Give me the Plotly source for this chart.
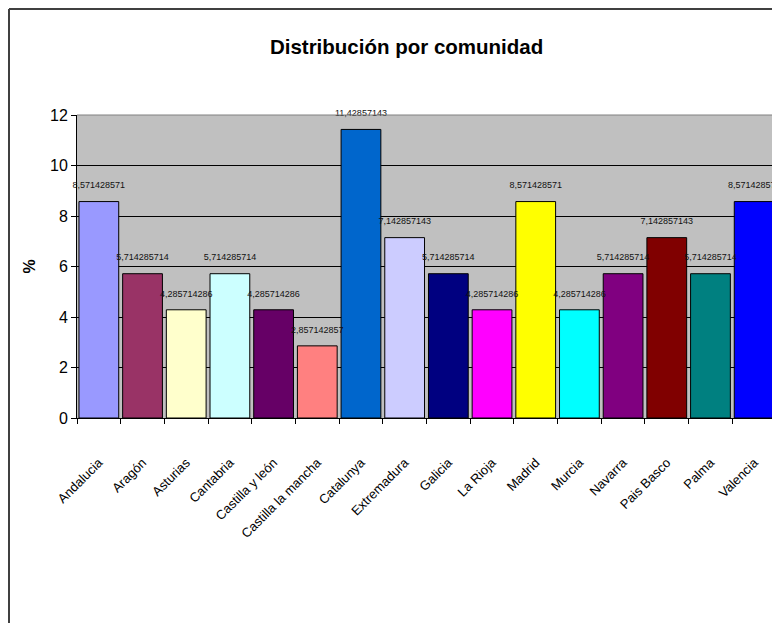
import plotly.graph_objects as go

categories = ["Andalucia", "Aragón", "Asturias", "Cantabria", "Castilla y león",
              "Castilla la mancha", "Catalunya", "Extremadura", "Galicia", "La Rioja",
              "Madrid", "Murcia", "Navarra", "Pais Basco", "Palma", "Valencia"]
values = [8.571428571, 5.714285714, 4.285714286, 5.714285714, 4.285714286,
          2.857142857, 11.42857143, 7.142857143, 5.714285714, 4.285714286,
          8.571428571, 4.285714286, 5.714285714, 7.142857143, 5.714285714,
          8.571428571]
colors = ["#9999FF", "#993366", "#FFFFCC", "#CCFFFF", "#660066", "#FF8080",
          "#0066CC", "#CCCCFF", "#000080", "#FF00FF", "#FFFF00", "#00FFFF",
          "#800080", "#800000", "#008080", "#0000FF"]
y_ticks = [0, 2, 4, 6, 8, 10, 12]

font_family = "Liberation Sans Narrow, Liberation Sans, Arial, sans-serif"

fig = go.Figure()
fig.add_trace(go.Bar(
    x=categories, y=values,
    marker=dict(color=colors, line=dict(color="black", width=1)),
    showlegend=False, hoverinfo="x+y",
))
fig.add_trace(go.Scatter(
    x=categories, y=values, mode="markers+text",
    marker=dict(size=16, opacity=0),
    texttemplate="%{y:.10r}",
    textposition="top center",
    textfont=dict(size=9, color="#111111", family=font_family),
    cliponaxis=False, showlegend=False, hoverinfo="skip",
))

fig.update_layout(
    width=780, height=623,
    margin=dict(l=69, r=12, t=107, b=213),
    paper_bgcolor="white",
    plot_bgcolor="#C0C0C0",
    separators=",.",
    bargap=0.09,
    title=dict(text="<b>Distribución por comunidad</b>", x=0.511, xanchor="center",
               y=1 - 39 / 623, yanchor="middle",
               font=dict(size=20.5, color="black", family="Liberation Sans, Arial, sans-serif")),
    font=dict(family="Liberation Sans, Arial, sans-serif", color="black"),
    xaxis=dict(
        range=[-0.5, len(categories) - 0.5],
        tickangle=-45, tickson="boundaries", ticks="outside", ticklen=5,
        ticklabelstandoff=31,
        tickcolor="black", showline=True, linecolor="black", linewidth=1,
        tickfont=dict(size=13, family=font_family), showgrid=False,
    ),
    yaxis=dict(
        range=[0, 12], tickvals=y_ticks, ticks="outside", ticklen=5,
        tickcolor="black", showline=True, linecolor="black", linewidth=1,
        gridcolor="black", gridwidth=1, tickfont=dict(size=16),
        title=dict(text="<b>%</b>", font=dict(size=16), standoff=10),
        zeroline=False,
    ),
    shapes=[
        dict(type="line", xref="x domain", yref="y domain", x0=0, x1=1, y0=1, y1=1,
             line=dict(color="#808080", width=1)),
        dict(type="line", xref="x domain", yref="y domain", x0=1, x1=1, y0=0, y1=1,
             line=dict(color="#808080", width=1)),
        dict(type="line", xref="paper", yref="paper",
             x0=-68 / 699, x1=1.1, y0=1 + 106 / 303, y1=1 + 106 / 303,
             line=dict(color="#404040", width=2)),
        dict(type="line", xref="paper", yref="paper",
             x0=-68 / 699, x1=-68 / 699, y0=1 + 106 / 303, y1=-0.8,
             line=dict(color="#404040", width=2)),
    ],
)

fig.write_html("out.html")
